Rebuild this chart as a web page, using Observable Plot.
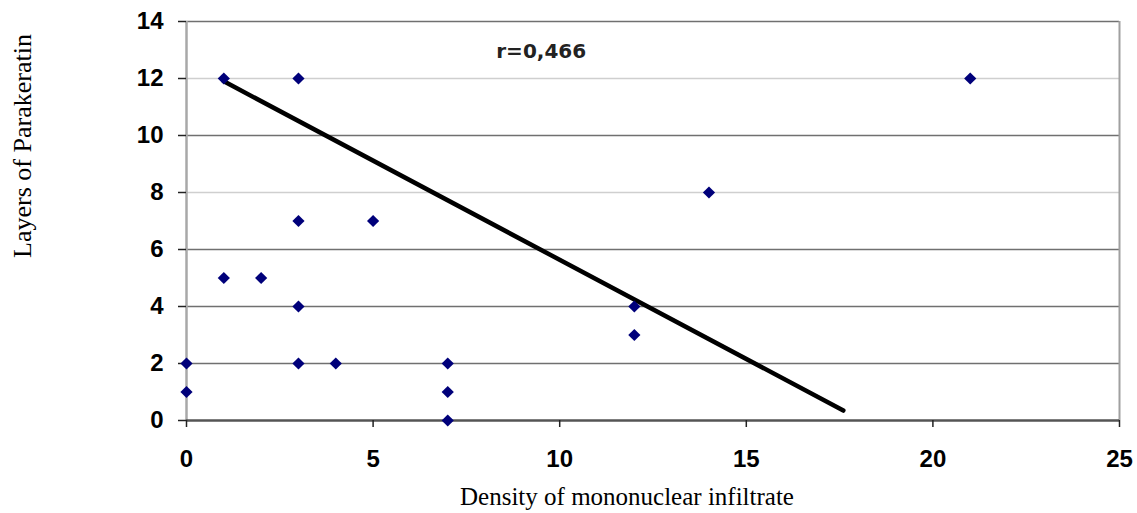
<!DOCTYPE html>
<html>
<head>
<meta charset="utf-8">
<script src="https://cdn.jsdelivr.net/npm/d3@7"></script>
<script src="https://cdn.jsdelivr.net/npm/@observablehq/plot@0.6"></script>
<style>
  html, body { margin: 0; padding: 0; background: #fff; }
  #chart { width: 1137px; height: 513px; }
</style>
</head>
<body>
<div id="chart"></div>
<script>
// Data
const densityX = [0, 0, 1, 1, 2, 3, 3, 3, 3, 4, 5, 7, 7, 7, 12, 12, 14, 21];
const layersY  = [2, 1, 12, 5, 5, 12, 7, 4, 2, 2, 7, 2, 1, 0, 4, 3, 8, 12];
const trendX = [1, 17.6];
const trendY = [11.9, 0.35];
const xTicks = [0, 5, 10, 15, 20, 25];
const yTicks = [0, 2, 4, 6, 8, 10, 12, 14];
const gridY = [2, 4, 6, 8, 10, 12, 14];
const annotationText = "r=0,466";
const annotationX = [8.3];
const annotationY = [12.95];
const xTitle = "Density of mononuclear infiltrate";
const yTitle = "Layers of Parakeratin";

const points = densityX.map((x, i) => ({x, y: layersY[i]}));
const trend = trendX.map((x, i) => ({x, y: trendY[i]}));
const annot = annotationX.map((x, i) => ({x, y: annotationY[i], t: annotationText}));

const chart = Plot.plot({
  width: 1137,
  height: 513,
  marginLeft: 186,
  marginRight: 18,
  marginTop: 21,
  marginBottom: 93,
  style: {background: "#fff", overflow: "visible"},
  x: {domain: [0, 25], ticks: xTicks, label: null},
  y: {domain: [0, 14], ticks: yTicks, label: null},
  marks: [
    Plot.ruleY(gridY, {stroke: d => (d === 12 || d === 8) ? "#cfcfcf" : "#707070", strokeWidth: 1.5}),
    Plot.ruleX([25], {stroke: "#a0a0a0", strokeWidth: 2}),
    Plot.ruleX([0], {stroke: "#a8a8a8", strokeWidth: 2.5}),
    Plot.ruleY([0], {stroke: "#555", strokeWidth: 2.5}),
    Plot.axisX({ticks: xTicks, tickSize: 7, tickPadding: 22, fontSize: 24, fontWeight: "bold",
      fontFamily: "Liberation Sans, Arial, sans-serif", stroke: "#222", strokeWidth: 1.5, label: null}),
    Plot.axisY({ticks: yTicks, tickSize: 8, tickPadding: 15, fontSize: 24, fontWeight: "bold",
      fontFamily: "Liberation Sans, Arial, sans-serif", stroke: "#222", strokeWidth: 1.5, label: null}),
    Plot.line(trend, {x: "x", y: "y", stroke: "#000", strokeWidth: 4.5}),
    Plot.dot(points, {x: "x", y: "y", symbol: "diamond2", r: 5.5, fill: "#00007a", stroke: "none"}),
    Plot.text(annot, {x: "x", y: "y", text: "t", textAnchor: "start", fontSize: 20, fontWeight: "bold",
      fontFamily: "DejaVu Sans, Verdana, sans-serif", fill: "#222"}),
    Plot.text([xTitle], {frameAnchor: "bottom", textAnchor: "middle", dx: -26, dy: 84, fontSize: 25,
      fontFamily: "Liberation Serif, Times New Roman, serif", fill: "#000", text: d => d}),
    Plot.text([yTitle], {frameAnchor: "left", textAnchor: "middle", lineAnchor: "middle", rotate: -90, dx: -164, dy: -75, fontSize: 26,
      fontFamily: "Liberation Serif, Times New Roman, serif", fill: "#000", text: d => d})
  ]
});
document.getElementById("chart").appendChild(chart);
</script>
</body>
</html>
